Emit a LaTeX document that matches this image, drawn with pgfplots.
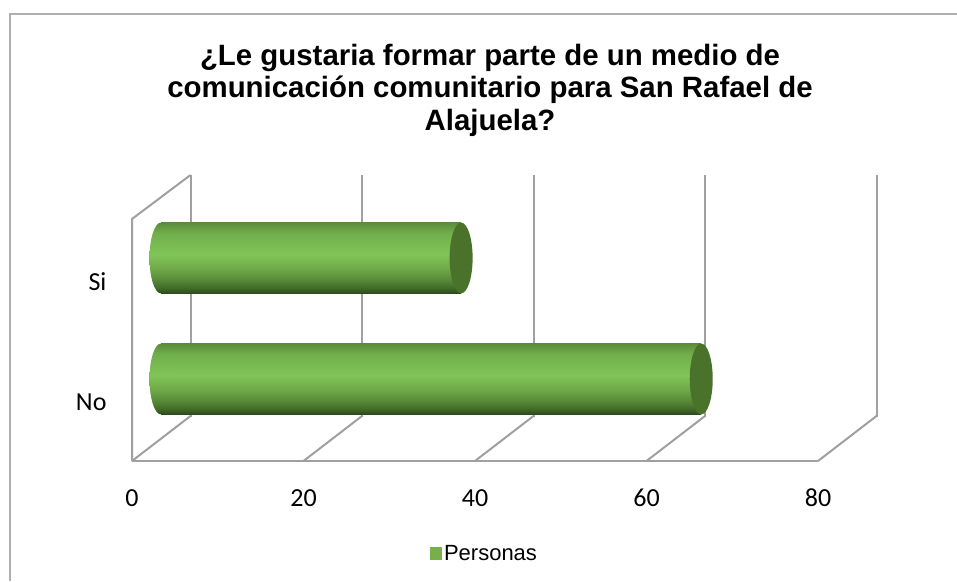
\documentclass[border=0pt]{standalone}
\usepackage{fontspec}
\setmainfont{Liberation Sans}
\newfontfamily\calibri{Carlito}
\usepackage{pgfplots}
\pgfplotsset{compat=1.18}
\definecolor{WallLine}{HTML}{A0A0A0}
\definecolor{FrameLine}{HTML}{B0B0B0}
\definecolor{CapGreen}{HTML}{4A722B}
\definecolor{KeyGreen}{HTML}{77B04A}
\definecolor{C0}{HTML}{2E481D}
\definecolor{C1}{HTML}{426B29}
\definecolor{C2}{HTML}{598C3A}
\definecolor{C3}{HTML}{6FA948}
\definecolor{C4}{HTML}{80C558}
\definecolor{C5}{HTML}{71AF4B}
\definecolor{C6}{HTML}{5B8C3A}
% cylinder body, dark underside, light band a bit above the middle
% (a shaded path only covers the middle 50bp of the shading)
\pgfdeclareverticalshading{cyl}{100bp}{
  color(0bp)=(C0);color(25bp)=(C0);color(29bp)=(C1);color(35bp)=(C2);color(42.5bp)=(C3);
  color(52.5bp)=(C4);color(67.5bp)=(C5);color(75bp)=(C6);color(100bp)=(C6)}
\pgfdeclareplotmark{leftcap}{
  \path[draw=none,shading=cyl,cm={1,0,0.1,1,(0pt,0pt)}] (0pt,0pt) ellipse [x radius=11.5pt,y radius=35.4pt];}
\pgfdeclareplotmark{rightcap}{
  \path[draw=none,fill=CapGreen,cm={1,0,0.1,1,(0pt,0pt)}] (0pt,0pt) ellipse [x radius=11.5pt,y radius=35.4pt];}
\tikzset{wall/.style={draw=WallLine,line width=2pt}}
\pgfplotsset{
  chartbox/.style={scale only axis,width=686pt,xmin=0,xmax=80,ymin=-0.5,ymax=1.5,
    anchor=south west,clip=false,axis line style={draw=none},
    xtick={0,20,40,60,80},ytick={0,1},major tick length=0pt,
    xticklabels={},yticklabels={}},
  cylinder/.style={xbar,bar width=70.8pt,bar shift=0pt,draw=none,shading=cyl,forget plot}}
\begin{document}
\begin{tikzpicture}
\useasboundingbox (0,0) rectangle (957pt,581pt);
\draw[FrameLine,line width=2pt] (10pt,0pt) -- (10pt,567pt) -- (957pt,567pt);
\node[font=\bfseries\fontsize{29.4}{32.5}\selectfont,align=center,anchor=center] at (490pt,491pt)
  {¿Le gustaria formar parte de un medio de\\comunicación comunitario para San Rafael de\\Alajuela?};
% back wall
\begin{axis}[chartbox,at={(190.5pt,164.5pt)},height=241.5pt,xmajorgrids,ymajorgrids=false,
  major grid style={wall}]
\addplot[draw=none,forget plot] coordinates {(0,0) (80,1)};
\end{axis}
% floor and left wall, carrying the tick labels
\begin{axis}[chartbox,at={(132pt,120pt)},height=242pt,
  xticklabels={0,20,40,60,80},yticklabels={No,Si},
  /pgf/number format/assume math mode=true,
  tick label style={font=\calibri\fontsize{26}{26}\selectfont},
  xticklabel style={yshift=-25pt,text height=16.5pt,text depth=0pt},
  yticklabel style={xshift=-22pt,yshift=-2pt},
  legend style={at={(0.5135,-0.381)},anchor=center,draw=none,fill=none,
    font=\fontsize{22}{22}\selectfont,inner sep=0pt},
  legend image code/.code={\fill[KeyGreen] (0pt,-6.5pt) rectangle (12.5pt,6pt);}]
\addplot[draw=none] coordinates {(0,0) (80,1)};
\addlegendentry{Personas}
\draw[wall] (axis cs:0,-0.5) -- (axis cs:80,-0.5);
\draw[wall] (axis cs:0,-0.5) -- (axis cs:0,1.5) -- ++(58.5pt,44pt);
\pgfplotsinvokeforeach{0,20,40,60,80}{
  \draw[wall] (axis cs:#1,-0.5) -- ++(58.5pt,45pt);
}
\end{axis}
% cylinders, shifted to the middle of the chart's depth
\begin{axis}[chartbox,at={(161pt,141.5pt)},height=242pt]
\addplot[only marks,mark=leftcap,forget plot] coordinates {(0,0) (0,1)};
\addplot[cylinder] coordinates {(63,0)};
\addplot[cylinder] coordinates {(35,1)};
\addplot[only marks,mark=rightcap,forget plot] coordinates {(63,0) (35,1)};
\end{axis}
\end{tikzpicture}
\end{document}
